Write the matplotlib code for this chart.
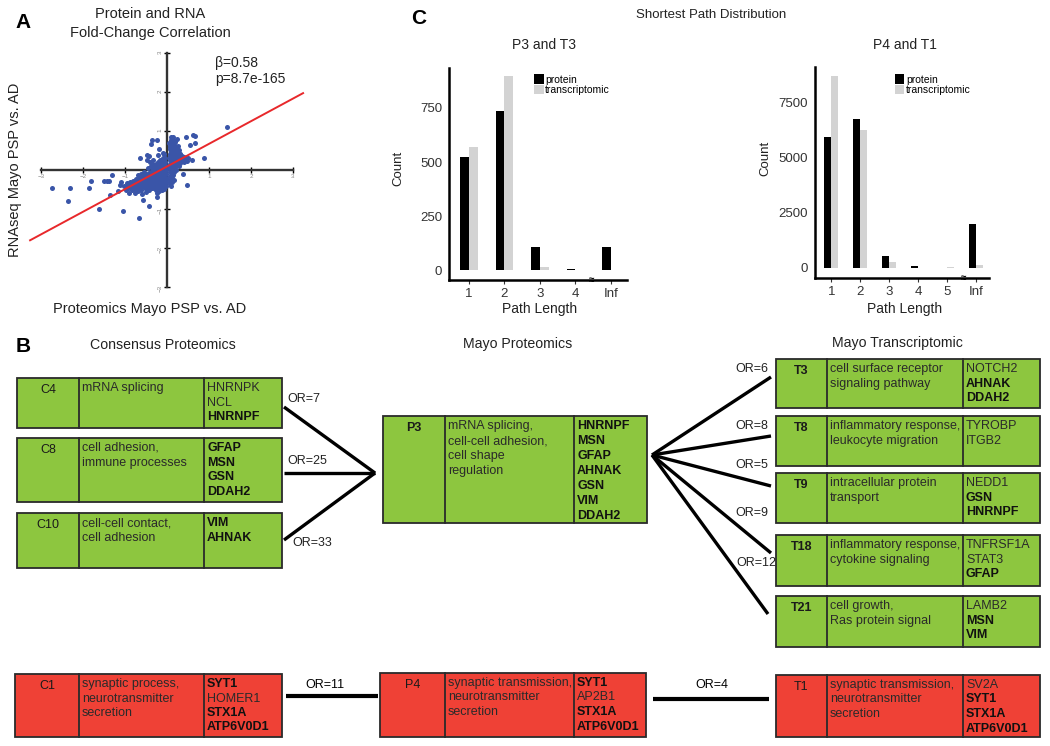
import numpy as np
import matplotlib
matplotlib.use("Agg")
import matplotlib.pyplot as plt
from matplotlib.patches import Rectangle

plt.rcParams['font.family'] = ['Liberation Sans', 'DejaVu Sans']

# ---- panel A: protein vs RNA fold change ----
outliers = [(-2.75, -0.47), (-2.31, -0.47), (-2.36, -0.79), (-1.81, -0.27), (-1.85, -0.45),
            (-1.61, -1.01), (-1.5, -0.27), (-1.43, -0.27), (-1.38, -0.27), (-1.31, -0.13),
            (-1.36, -0.65), (-1.13, -0.39), (-1.16, -0.53), (-1.05, -1.05), (-0.67, -1.24),
            (-0.58, -0.77), (-0.43, -0.91), (-0.23, -0.68), (-0.22, -0.43), (-0.36, 0.77),
            (-0.23, 0.77), (-0.39, 0.67), (-0.48, 0.38), (-0.43, 0.37), (-0.64, 0.3),
            (-0.21, 0.38), (-0.2, 0.53), (1.42, 1.11), (0.63, 0.9), (0.67, 0.88),
            (0.45, 0.85), (0.67, 0.69), (0.55, 0.64), (0.87, 0.3), (0.59, 0.26),
            (0.39, -0.09), (0.47, -0.38), (-0.1, 0.44), (-0.25, -0.58), (-1.1, -0.3)]
neg_cluster = [(-1.02, -0.42), (-0.98, -0.5), (-0.96, -0.33), (-0.93, -0.45), (-0.9, -0.58),
               (-0.89, -0.3), (-0.86, -0.4), (-0.84, -0.52), (-0.82, -0.27), (-0.8, -0.36),
               (-0.78, -0.47), (-0.76, -0.6), (-0.75, -0.24), (-0.73, -0.33), (-0.71, -0.43),
               (-0.69, -0.53), (-0.67, -0.2), (-0.65, -0.3), (-0.63, -0.4), (-0.61, -0.5),
               (-0.6, -0.62), (-0.58, -0.17), (-0.56, -0.27), (-0.54, -0.37), (-0.52, -0.47),
               (-0.5, -0.57), (-0.5, -0.12), (-0.48, -0.22), (-0.46, -0.32), (-0.44, -0.42),
               (-0.42, -0.52), (-0.42, -0.07), (-0.4, -0.17), (-0.38, -0.27), (-0.36, -0.37),
               (-0.35, -0.47), (-0.34, 0.02), (-0.32, -0.1), (-0.3, -0.2), (-0.29, -0.3),
               (-0.28, -0.4), (-0.27, -0.52), (-0.26, 0.08), (-0.25, -0.05), (-0.24, -0.15),
               (-0.22, -0.25), (-0.21, -0.35), (-0.2, -0.45), (-0.19, 0.15), (-0.18, 0.02),
               (-0.17, -0.1), (-0.16, -0.2), (-0.15, -0.3), (-0.14, -0.4), (-0.13, 0.22),
               (-0.12, 0.1), (-0.11, -0.02), (-0.1, -0.14), (-0.09, -0.25), (-0.08, -0.36),
               (-0.07, 0.28), (-0.06, 0.15), (-0.05, 0.04), (-0.04, -0.08), (-0.03, -0.2),
               (-0.02, -0.32), (-0.04, 0.32), (-0.1, 0.3), (-0.16, 0.25), (-0.22, 0.2),
               (-0.3, 0.12), (-0.38, 0.1), (-0.45, 0.05), (-0.55, -0.05), (-0.62, -0.1),
               (-0.7, -0.12), (-0.4, 0.2), (-0.48, 0.25), (-0.33, 0.25), (-0.08, -0.48),
               (-0.13, -0.52), (-0.18, -0.55), (-0.03, -0.42), (-0.06, 0.4),
               (-0.95, -0.42), (-0.92, -0.38), (-0.88, -0.47), (-0.85, -0.35), (-0.83, -0.44),
               (-0.8, -0.3), (-0.78, -0.4), (-0.75, -0.5), (-0.73, -0.26), (-0.7, -0.36),
               (-0.68, -0.46), (-0.66, -0.25), (-0.64, -0.35), (-0.62, -0.45), (-0.6, -0.2),
               (-0.58, -0.3), (-0.56, -0.42), (-0.54, -0.15), (-0.52, -0.25), (-0.5, -0.35),
               (-0.48, -0.45), (-0.46, -0.1), (-0.44, -0.2), (-0.42, -0.3), (-0.4, -0.42),
               (-0.38, -0.05), (-0.36, -0.15), (-0.34, -0.25), (-0.32, -0.35), (-0.31, -0.45),
               (-0.3, 0.0), (-0.28, -0.08), (-0.27, -0.18), (-0.26, -0.28), (-0.24, -0.38),
               (-0.23, -0.48), (-0.22, 0.05), (-0.2, -0.08), (-0.19, -0.18), (-0.18, -0.28),
               (-0.17, -0.38), (-0.16, 0.1), (-0.15, -0.02), (-0.14, -0.14), (-0.13, -0.24),
               (-0.12, -0.34), (-0.11, -0.44), (-0.1, 0.18), (-0.09, 0.04), (-0.08, -0.06),
               (-0.07, -0.16), (-0.06, -0.26), (-0.05, -0.38), (-0.04, 0.2), (-0.03, 0.1),
               (-0.02, 0.0), (-0.02, -0.1), (-0.01, -0.22), (-0.12, 0.2), (-0.2, 0.12),
               (-0.26, 0.15), (-0.35, 0.15)]
pos_cluster = [(0.06, 0.05), (0.06, 0.3), (0.06, 0.55), (0.07, -0.15), (0.07, 0.15),
               (0.07, 0.42), (0.08, 0.68), (0.08, -0.05), (0.09, 0.25), (0.09, 0.5),
               (0.1, 0.78), (0.1, 0.1), (0.1, -0.25), (0.11, 0.35), (0.11, 0.6),
               (0.12, 0.0), (0.12, 0.2), (0.13, 0.45), (0.13, 0.7), (0.14, -0.12),
               (0.14, 0.3), (0.15, 0.1), (0.15, 0.55), (0.16, 0.38), (0.16, 0.75),
               (0.17, 0.2), (0.17, -0.05), (0.18, 0.48), (0.18, 0.62), (0.19, 0.3),
               (0.2, 0.1), (0.2, 0.4), (0.21, 0.55), (0.21, 0.22), (0.22, 0.0),
               (0.23, 0.33), (0.23, 0.48), (0.24, 0.15), (0.25, 0.62), (0.25, 0.27),
               (0.26, 0.4), (0.27, 0.2), (0.28, 0.33), (0.28, 0.5), (0.29, 0.1),
               (0.3, 0.26), (0.31, 0.4), (0.32, 0.18), (0.33, 0.3), (0.35, 0.24),
               (0.36, 0.36), (0.38, 0.28), (0.4, 0.2), (0.41, 0.33), (0.43, 0.26),
               (0.45, 0.3), (0.48, 0.22), (0.5, 0.32), (0.08, -0.3), (0.12, -0.3),
               (0.16, -0.25), (0.09, 0.85), (0.14, 0.85), (0.2, 0.72), (0.24, 0.8),
               (0.06, -0.35), (0.1, -0.4), (0.05, 0.7),
               (0.07, 0.05), (0.08, 0.35), (0.08, 0.58), (0.09, 0.15), (0.09, -0.18),
               (0.1, 0.45), (0.1, 0.65), (0.11, 0.25), (0.11, 0.02), (0.12, 0.52),
               (0.12, 0.38), (0.13, 0.12), (0.13, 0.6), (0.14, 0.2), (0.14, 0.52),
               (0.15, 0.35), (0.15, -0.02), (0.16, 0.48), (0.16, 0.15), (0.17, 0.62),
               (0.17, 0.32), (0.18, 0.08), (0.18, 0.25), (0.19, 0.42), (0.19, 0.55),
               (0.2, 0.28), (0.21, 0.38), (0.22, 0.15), (0.22, 0.48), (0.23, 0.22),
               (0.24, 0.35), (0.25, 0.45), (0.26, 0.3), (0.27, 0.38), (0.29, 0.3),
               (0.3, 0.42), (0.32, 0.35), (0.34, 0.22), (0.07, 0.25), (0.07, 0.62),
               (0.11, -0.12), (0.13, -0.2), (0.09, 0.72), (0.12, 0.78)]
prot_fc = [p[0] for p in outliers + neg_cluster + pos_cluster]
rna_fc = [p[1] for p in outliers + neg_cluster + pos_cluster]
beta, intercept = 0.58, 0.09
fit_x = [-3.26, 3.24]

# ---- panel C: shortest path distribution ----
p3t3_lengths = ['1', '2', '3', '4', 'Inf']
p3t3_protein = [523, 736, 106, 7, 106]
p3t3_transcript = [569, 898, 14, 2, 1]
p4t1_lengths = ['1', '2', '3', '4', '5', 'Inf']
p4t1_protein = [5955, 6773, 545, 80, 5, 2000]
p4t1_transcript = [8727, 6273, 270, 10, 30, 140]

# ---- panel B: module overlaps ----
hub_genes = {'HNRNPF', 'MSN', 'GFAP', 'AHNAK', 'GSN', 'VIM', 'DDAH2', 'SYT1', 'STX1A', 'ATP6V0D1'}
cons_modules = ['C4', 'C8', 'C10']
cons_terms = [['mRNA splicing'], ['cell adhesion,', 'immune processes'], ['cell-cell contact,', 'cell adhesion']]
cons_genes = [['HNRNPK', 'NCL', 'HNRNPF'], ['GFAP', 'MSN', 'GSN', 'DDAH2'], ['VIM', 'AHNAK']]
cons_or = [7, 25, 33]
prot_module = 'P3'
prot_terms = ['mRNA splicing,', 'cell-cell adhesion,', 'cell shape', 'regulation']
prot_genes = ['HNRNPF', 'MSN', 'GFAP', 'AHNAK', 'GSN', 'VIM', 'DDAH2']
trans_modules = ['T3', 'T8', 'T9', 'T18', 'T21']
trans_terms = [['cell surface receptor', 'signaling pathway'], ['inflammatory response,', 'leukocyte migration'],
               ['intracellular protein', 'transport'], ['inflammatory response,', 'cytokine signaling'],
               ['cell growth,', 'Ras protein signal']]
trans_genes = [['NOTCH2', 'AHNAK', 'DDAH2'], ['TYROBP', 'ITGB2'], ['NEDD1', 'GSN', 'HNRNPF'],
               ['TNFRSF1A', 'STAT3', 'GFAP'], ['LAMB2', 'MSN', 'VIM']]
trans_or = [6, 8, 5, 9, 12]
syn_modules = ['C1', 'P4', 'T1']
syn_terms = [['synaptic process,', 'neurotransmitter', 'secretion'],
             ['synaptic transmission,', 'neurotransmitter', 'secretion'],
             ['synaptic transmission,', 'neurotransmitter', 'secretion']]
syn_genes = [['SYT1', 'HOMER1', 'STX1A', 'ATP6V0D1'], ['SYT1', 'AP2B1', 'STX1A', 'ATP6V0D1'],
             ['SV2A', 'SYT1', 'STX1A', 'ATP6V0D1']]
syn_or = [11, 4]

W, H = 1050, 746
fig = plt.figure(figsize=(10.5, 7.46), dpi=100)


def fig_rect(x0, y0, x1, y1):
    return [x0 / W, 1 - y1 / H, (x1 - x0) / W, (y1 - y0) / H]


# panel A
ax = fig.add_axes(fig_rect(28.4, 49, 305.6, 291))
ax.scatter(prot_fc, rna_fc, s=13, color='#3a55a8', linewidths=0, zorder=3)
fx = np.array(fit_x)
ax.plot(fx, intercept + beta * fx, color='#e8282b', lw=1.4, zorder=4)
ax.set_xlim(-3.3, 3.3)
ax.set_ylim(-3.1, 3.1)
for s in ['top', 'right']:
    ax.spines[s].set_visible(False)
for s in ['left', 'bottom']:
    ax.spines[s].set_position('zero')
    ax.spines[s].set_bounds(-3, 3)
    ax.spines[s].set_linewidth(1.7)
    ax.spines[s].set_color('#333333')
ax.set_xticks([-3, -2, -1, 1, 2, 3])
ax.set_yticks([-3, -2, -1, 1, 2, 3])
ax.tick_params(direction='inout', length=4, width=1, labelsize=4.5, labelcolor='#888888', pad=1)
ax.tick_params(axis='y', labelrotation=90)
ax.patch.set_alpha(0)


def bar_panel(rect, cats, prot, trans, width, ylim, yticks, break_pos, leg_xy):
    a = fig.add_axes(fig_rect(*rect))
    x = np.arange(len(cats))
    a.bar(x - width / 2, prot, width, color='black', label='protein')
    a.bar(x + width / 2, trans, width, color='#d3d3d3', label='transcriptomic')
    a.set_xticks(x, cats)
    a.set_yticks(yticks)
    a.set_xlim(-0.56, len(cats) - 0.55)
    a.set_ylim(*ylim)
    for s in ['top', 'right']:
        a.spines[s].set_visible(False)
    for s in ['left', 'bottom']:
        a.spines[s].set_linewidth(1.8)
    a.tick_params(axis='both', labelsize=9.5, length=3, pad=3, colors='#333333', labelcolor='#333333')
    a.tick_params(axis='y', length=0, pad=5)
    a.text(break_pos, ylim[0], '≈', ha='center', va='center', fontsize=7, fontweight='bold',
           transform=a.transData, clip_on=False)
    a.legend(loc='upper left', bbox_to_anchor=leg_xy, frameon=False, fontsize=7.5,
             handlelength=0.9, handleheight=1.0, handletextpad=0.15, labelspacing=0.05,
             borderaxespad=0, borderpad=0)
    a.patch.set_alpha(0)
    return a


bar_panel((449, 68, 627, 280), p3t3_lengths, p3t3_protein, p3t3_transcript, 0.25,
          (-46, 935), [0, 250, 500, 750], 3.45, (0.48, 0.97))
bar_panel((815, 67, 989, 278), p4t1_lengths, p4t1_protein, p4t1_transcript, 0.24,
          (-455, 9136), [0, 2500, 5000, 7500], 4.56, (0.46, 0.965))

# overlay in pixel coordinates
ov = fig.add_axes([0, 0, 1, 1])
ov.set_xlim(0, W)
ov.set_ylim(H, 0)
ov.axis('off')


def t(x, y, s, **kw):
    kw.setdefault('fontsize', 9)
    kw.setdefault('va', 'center')
    ov.text(x, y, s, **kw)


t(15, 22, 'A', fontsize=15, fontweight='bold', ha='left')
t(150, 14, 'Protein and RNA', fontsize=10.5, ha='center', color='#222222')
t(150, 33, 'Fold-Change Correlation', fontsize=10.5, ha='center', color='#222222')
t(215, 63, 'β=0.58', fontsize=10, ha='left', color='#222222')
t(215, 79, 'p=8.7e-165', fontsize=10, ha='left', color='#222222')
t(15, 170, 'RNAseq Mayo PSP vs. AD', fontsize=10.5, ha='center', rotation=90, color='#222222')
t(150, 309, 'Proteomics Mayo PSP vs. AD', fontsize=10.5, ha='center', color='#222222')

t(411, 18, 'C', fontsize=15, fontweight='bold', ha='left')
t(711, 15, 'Shortest Path Distribution', fontsize=9.5, ha='center', color='#222222')
t(544, 45, 'P3 and T3', fontsize=10, ha='center', color='#222222')
t(905, 45, 'P4 and T1', fontsize=10, ha='center', color='#222222')
t(398, 168, 'Count', fontsize=9.5, ha='center', rotation=90, color='#222222')
t(765, 158, 'Count', fontsize=9.5, ha='center', rotation=90, color='#222222')
t(540, 309, 'Path Length', fontsize=10, ha='center', color='#222222')
t(905, 309, 'Path Length', fontsize=10, ha='center', color='#222222')

t(16, 346, 'B', fontsize=15, fontweight='bold', ha='left')
t(163, 345, 'Consensus Proteomics', fontsize=10.2, ha='center', color='#222222')
t(518, 344, 'Mayo Proteomics', fontsize=10.2, ha='center', color='#222222')
t(897, 343, 'Mayo Transcriptomic', fontsize=10.2, ha='center', color='#222222')

GREEN = '#8dc63f'
RED = '#ef4136'


def box(x0, y0, x1, y1, d1, d2, color, label, terms, genes, label_bold=False,
        first=10, step=14.6, fs=9):
    ov.add_patch(Rectangle((x0, y0), x1 - x0, y1 - y0, facecolor=color, edgecolor='#2a2a2a', lw=1.3))
    ov.plot([d1, d1], [y0, y1], color='#2a2a2a', lw=1.3)
    ov.plot([d2, d2], [y0, y1], color='#2a2a2a', lw=1.3)
    t((x0 + d1) / 2, y0 + first + 2, label, ha='center', fontsize=fs,
      fontweight='bold' if label_bold else 'normal', color='#1a1a1a')
    for i, line in enumerate(terms):
        t(d1 + 3, y0 + first + i * step, line, ha='left', fontsize=fs, color='#2a2a2a')
    for i, g in enumerate(genes):
        bold = g in hub_genes
        t(d2 + 3, y0 + first + i * step, g, ha='left', fontsize=fs,
          fontweight='bold' if bold else 'normal', color='#111111' if bold else '#2a2a2a')


def link(p, q, lw=2.4):
    ov.plot([p[0], q[0]], [p[1], q[1]], color='black', lw=lw, solid_capstyle='butt')


cons_boxes = [(378, 428), (438, 502), (513, 568)]
cons_ends = [407, 473, 540]
cons_or_pos = [(287, 399), (287, 461), (292, 543)]
for i, m in enumerate(cons_modules):
    y0, y1 = cons_boxes[i]
    box(17, y0, 282, y1, 79, 204, GREEN, m, cons_terms[i], cons_genes[i])
    link((284, cons_ends[i]), (375, 473))
    t(cons_or_pos[i][0], cons_or_pos[i][1], f'OR={cons_or[i]}', ha='left', color='#222222')

box(383, 416, 647, 523, 445, 574, GREEN, prot_module, prot_terms, prot_genes, label_bold=True, step=15)

trans_boxes = [(359, 408), (416, 466), (473, 523), (535, 586), (596, 647)]
trans_ends = [(771, 377), (771, 436), (771, 486), (771, 553), (768, 614)]
trans_or_pos = [(768, 369), (768, 426), (768, 465), (768, 513), (776, 563)]
for i, m in enumerate(trans_modules):
    y0, y1 = trans_boxes[i]
    box(776, y0, 1040, y1, 827, 963, GREEN, m, trans_terms[i], trans_genes[i], label_bold=True)
    link((652, 455), trans_ends[i])
    t(trans_or_pos[i][0], trans_or_pos[i][1], f'OR={trans_or[i]}', ha='right', color='#222222')

syn_boxes = [(15, 674, 282, 737, 79, 204), (380, 673, 646, 737, 445, 574), (776, 675, 1040, 737, 827, 963)]
for i, m in enumerate(syn_modules):
    x0, y0, x1, y1, d1, d2 = syn_boxes[i]
    box(x0, y0, x1, y1, d1, d2, RED, m, syn_terms[i], syn_genes[i], first=10, step=14.5)
link((286, 696), (378, 696), lw=3)
link((653, 699), (769, 699), lw=3)
t(325, 685, f'OR={syn_or[0]}', ha='center')
t(712, 685, f'OR={syn_or[1]}', ha='center')

fig.savefig('out.png', dpi=100)
